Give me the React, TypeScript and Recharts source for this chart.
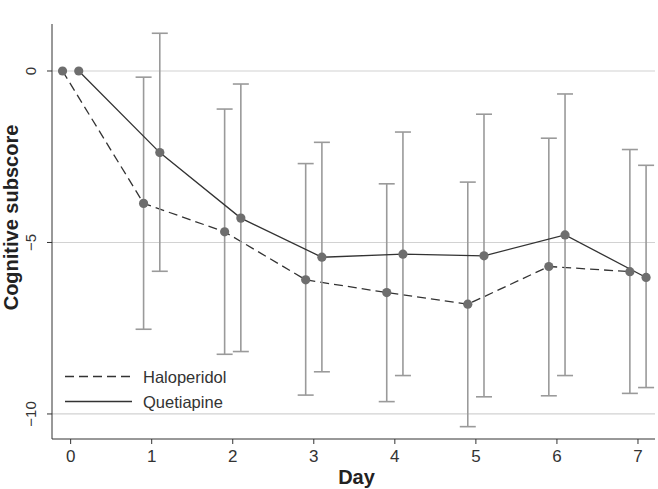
import React from "react";
import {
    ComposedChart,
    Line,
    XAxis,
    YAxis,
    CartesianGrid,
    ErrorBar,
} from "recharts";

// days and per-group offsets (points are jittered left/right of the day)
const days = [0, 1, 2, 3, 4, 5, 6, 7];

const haloMean = [0, -3.86, -4.69, -6.09, -6.46, -6.8, -5.7, -5.85];
const haloLow = [null, -7.53, -8.26, -9.45, -9.64, -10.37, -9.47, -9.4];
const haloHigh = [null, -0.18, -1.11, -2.7, -3.29, -3.24, -1.96, -2.29];

const quetMean = [0, -2.38, -4.29, -5.43, -5.34, -5.39, -4.78, -6.02];
const quetLow = [null, -5.84, -8.18, -8.77, -8.88, -9.5, -8.88, -9.23];
const quetHigh = [null, 1.1, -0.38, -2.08, -1.78, -1.26, -0.67, -2.75];

const xTicks = [0, 1, 2, 3, 4, 5, 6, 7];
const yTicks = [0, -5, -10];

const FONT = "'Liberation Sans', Arial, sans-serif";

if (typeof document !== "undefined") {
    document.body.style.margin = "0";
}

function buildSeries(mean: number[], low: (number | null)[], high: (number | null)[], shift: number) {
    return days.map((d, i) => ({
        x: d + shift,
        y: mean[i],
        err: low[i] == null ? null : [mean[i] - (low[i] as number), (high[i] as number) - mean[i]],
    }));
}

const haloData = buildSeries(haloMean, haloLow, haloHigh, -0.1);
const quetData = buildSeries(quetMean, quetLow, quetHigh, 0.1);

const fmt = (v: number) => (v < 0 ? "\u2212" + Math.abs(v) : String(v));

const YTick = ({ x, y, payload }: any) => (
    <g transform={`translate(${x - 9},${y}) rotate(-90)`}>
        <text textAnchor="middle" fill="#333" fontSize={15} fontFamily={FONT}>
            {fmt(payload.value)}
        </text>
    </g>
);

const XTick = ({ x, y, payload }: any) => (
    <text x={x} y={y + 16} textAnchor="middle" fill="#333" fontSize={17} fontFamily={FONT}>
        {payload.value}
    </text>
);

const Dot = ({ cx, cy }: any) => <circle cx={cx} cy={cy} r={4.6} fill="#6e6e6e" />;

const LegendBox = () => (
    <svg width={200} height={46} style={{ position: "absolute", left: 63, top: 366 }}>
        <line x1={2} y1={10.5} x2={69} y2={10.5} stroke="#333" strokeWidth={1.3} strokeDasharray="9 5" />
        <text x={80} y={16.5} fontSize={16.5} fill="#333" fontFamily={FONT}>Haloperidol</text>
        <line x1={2} y1={35.5} x2={69} y2={35.5} stroke="#333" strokeWidth={1.3} />
        <text x={80} y={42} fontSize={16.5} fill="#333" fontFamily={FONT}>Quetiapine</text>
    </svg>
);

export default function App() {
    return (
        <div style={{ position: "relative", width: 658, height: 489 }}>
            <ComposedChart width={658} height={489} margin={{ top: 24, right: 3, left: 20, bottom: 20 }}>
                <CartesianGrid vertical={false} horizontalValues={yTicks} stroke="#d2d2d2" strokeWidth={1.2} />
                <XAxis
                    type="number"
                    dataKey="x"
                    domain={[-0.23, 7.21]}
                    ticks={xTicks}
                    allowDataOverflow
                    height={30}
                    stroke="#333"
                    tickSize={5}
                    tick={<XTick />}
                    label={{
                        content: ({ viewBox }: any) => (
                            <text
                                x={viewBox.x + viewBox.width / 2 + 3}
                                y={viewBox.y + 45}
                                textAnchor="middle"
                                fontSize={20}
                                fontWeight="bold"
                                fill="#222"
                                fontFamily={FONT}
                            >
                                Day
                            </text>
                        ),
                    }}
                />
                <YAxis
                    type="number"
                    domain={[-10.73, 1.37]}
                    ticks={yTicks}
                    allowDataOverflow
                    width={32}
                    stroke="#333"
                    tickSize={5}
                    tick={<YTick />}
                    label={{
                        content: ({ viewBox }: any) => {
                            const cx = viewBox.x - 2;
                            const cy = viewBox.y + viewBox.height / 2 - 14;
                            return (
                                <text
                                    x={cx}
                                    y={cy}
                                    transform={`rotate(-90, ${cx}, ${cy})`}
                                    textAnchor="middle"
                                    fontSize={20}
                                    fontWeight="bold"
                                    fill="#222"
                                    fontFamily={FONT}
                                >
                                    Cognitive subscore
                                </text>
                            );
                        },
                    }}
                />
                <Line
                    data={haloData}
                    dataKey="y"
                    name="Haloperidol"
                    stroke="#333"
                    strokeWidth={1.3}
                    strokeDasharray="9 5"
                    dot={<Dot />}
                    activeDot={false}
                    isAnimationActive={false}
                >
                    <ErrorBar dataKey="err" width={8} stroke="#9a9a9a" strokeWidth={1.6} direction="y" />
                </Line>
                <Line
                    data={quetData}
                    dataKey="y"
                    name="Quetiapine"
                    stroke="#333"
                    strokeWidth={1.3}
                    dot={<Dot />}
                    activeDot={false}
                    isAnimationActive={false}
                >
                    <ErrorBar dataKey="err" width={8} stroke="#9a9a9a" strokeWidth={1.6} direction="y" />
                </Line>
            </ComposedChart>
            <LegendBox />
        </div>
    );
}
